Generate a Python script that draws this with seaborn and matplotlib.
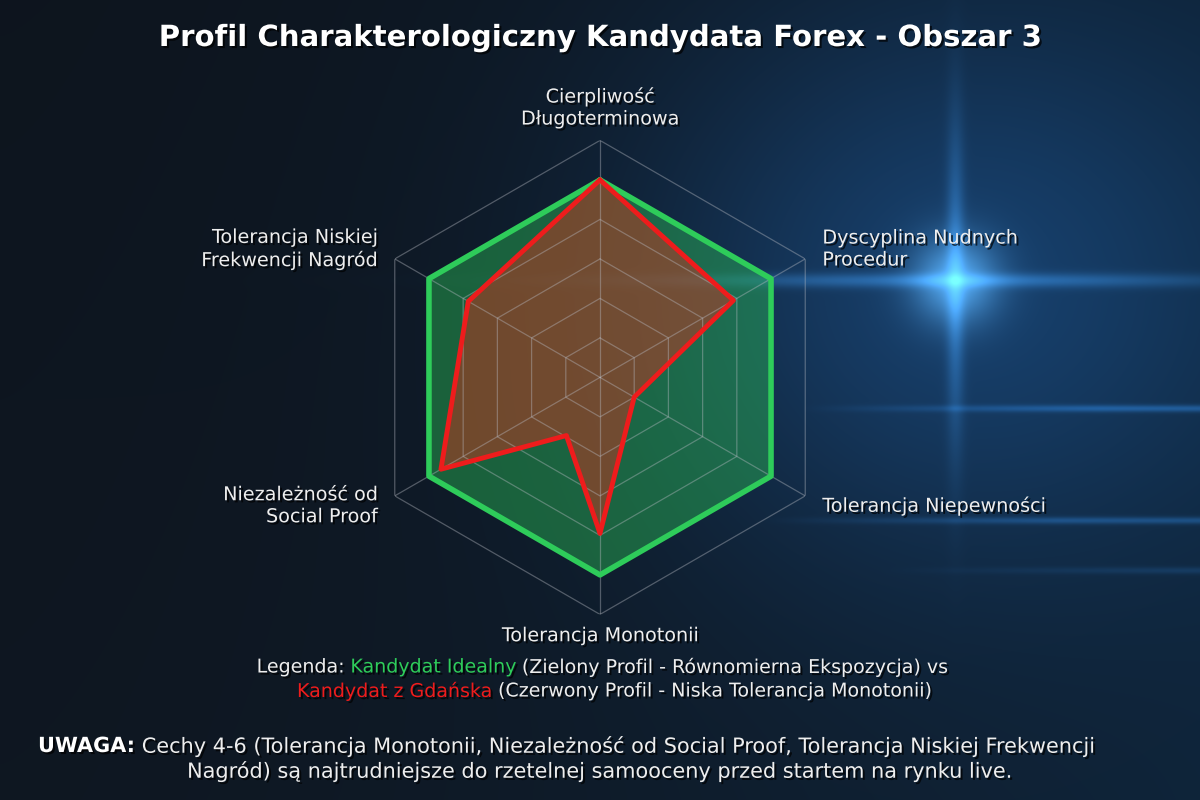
"""
Radar chart: character profile of a Forex candidate (area 3)
"""

import numpy as np
import matplotlib
matplotlib.use('Agg')
import matplotlib.pyplot as plt
import matplotlib.patheffects as pe
import seaborn as sns

sns.set_style('dark')
plt.rcParams['font.family'] = ['DejaVu Sans']

# ---- data -----------------------------------------------------------------
categories = [
    'Cierpliwość\nDługoterminowa',
    'Dyscyplina Nudnych\nProcedur',
    'Tolerancja Niepewności',
    'Tolerancja Monotonii',
    'Niezależność od\nSocial Proof',
    'Tolerancja Niskiej\nFrekwencji Nagród',
]
axis_angles_deg = [0, 60, 120, 180, 240, 300]

ideal_values = [10, 10, 10, 10, 10, 10]

# red profile has one extra vertex between "Monotonii" and "Social Proof"
candidate_angles_deg = [0, 60, 120, 180, 210, 240, 300]
candidate_values = [10, 7.8, 2.0, 7.9, 3.4, 9.3, 7.7]

grid_levels = [2, 4, 6, 8, 10, 12]
r_max = 12

title = 'Profil Charakterologiczny Kandydata Forex - Obszar 3'

GREEN = '#2ecc5a'
RED = '#ee1c1c'
TEXT = '#eeeeee'

shadow = [pe.withSimplePatchShadow(offset=(1.5, -1.5), shadow_rgbFace='black', alpha=0.7)]


def closed(angles_deg, values):
    th = np.deg2rad(list(angles_deg) + [angles_deg[0]])
    return th, list(values) + [values[0]]


def make_background(h=800, w=1200):
    """Dark navy trading-screen style backdrop"""
    yy, xx = np.mgrid[0:h, 0:w]
    fx = xx / w
    fy = yy / h
    base = np.zeros((h, w, 3))
    c_left = np.array([14, 22, 32]) / 255
    c_right = np.array([14, 34, 54]) / 255
    for k in range(3):
        base[..., k] = c_left[k] + (c_right[k] - c_left[k]) * fx ** 1.5
    base *= (0.95 + 0.1 * fy)[..., None]

    def blob(cx, cy, sx, sy, col, amp):
        g = np.exp(-(((xx - cx) / sx) ** 2 + ((yy - cy) / sy) ** 2) / 2)
        return g[..., None] * np.array(col)[None, None, :] / 255 * amp

    # glow on the right
    base += blob(955, 280, 220, 200, (15, 55, 100), 0.6)
    base += blob(955, 280, 30, 30, (110, 190, 240), 0.55)
    base += blob(955, 280, 6, 110, (60, 140, 210), 0.35)
    base += blob(955, 280, 200, 5, (60, 140, 210), 0.35)
    # faint horizontal streaks
    for cy, x0, amp in [(408, 800, 0.35), (520, 760, 0.3), (570, 880, 0.15)]:
        streak = np.exp(-((yy - cy) / 3.5) ** 2) * np.clip((xx - x0) / 300, 0, 1)
        base += streak[..., None] * np.array([40, 120, 200])[None, None, :] / 255 * amp
    return np.clip(base, 0, 1)


fig = plt.figure(figsize=(12, 8), dpi=100)
fig.patch.set_facecolor('#0e1722')

bg = fig.add_axes([0, 0, 1, 1])
bg.imshow(make_background(), aspect='auto', extent=[0, 1, 0, 1], zorder=0)
bg.set_axis_off()

ax = fig.add_axes([0.3025, 0.232, 0.395, 0.5925], projection='polar')
ax.set_facecolor('none')
ax.set_theta_offset(np.pi / 2)
ax.set_theta_direction(-1)
ax.set_ylim(0, r_max)
ax.grid(False)
ax.set_xticks([])
ax.set_yticks([])
ax.spines['polar'].set_visible(False)

# hexagonal grid
for lvl in grid_levels:
    th, rr = closed(axis_angles_deg, [lvl] * len(axis_angles_deg))
    ax.plot(th, rr, color='#b9bcc4', lw=0.9, alpha=0.4, zorder=3)
for a in axis_angles_deg:
    ax.plot([np.deg2rad(a)] * 2, [0, r_max], color='#b9bcc4', lw=0.9, alpha=0.4, zorder=3)

# ideal profile
th, rr = closed(axis_angles_deg, ideal_values)
ax.fill(th, rr, color=GREEN, alpha=0.4, zorder=1)
ax.plot(th, rr, color=GREEN, lw=4, zorder=4)

# candidate profile
th, rr = closed(candidate_angles_deg, candidate_values)
ax.fill(th, rr, color='#ff2214', alpha=0.38, zorder=2)
ax.plot(th, rr, color=RED, lw=3.5, zorder=5)

# axis labels
label_pos = [
    (12.6, 'center', 'bottom'),
    (13.0, 'left', 'center'),
    (13.0, 'left', 'center'),
    (12.6, 'center', 'top'),
    (13.0, 'right', 'center'),
    (13.0, 'right', 'center'),
]
for name, a, (r, ha, va) in zip(categories, axis_angles_deg, label_pos):
    ax.text(np.deg2rad(a), r, name, ha=ha, va=va, multialignment=ha,
            fontsize=13.8, color=TEXT, path_effects=shadow, zorder=6)

fig.text(0.5, 1 - 38 / 800, title, ha='center', va='center', fontsize=21,
         fontweight='bold', color='white', path_effects=shadow)

# multi-coloured text lines
fig.canvas.draw()
renderer = fig.canvas.get_renderer()
W, H = fig.bbox.width, fig.bbox.height


def text_width(s, size, weight='normal'):
    t = fig.text(0, 0, s, fontsize=size, fontweight=weight)
    w = t.get_window_extent(renderer).width
    t.remove()
    return w


def draw_pieces(pieces, y_px, size, x_px=None, center=None):
    space = text_width('a a', size) - text_width('aa', size)
    widths = [text_width(s, size, wt) for s, c, wt in pieces]
    total = sum(widths) + space * (len(pieces) - 1)
    x = center - total / 2 if center is not None else x_px
    for (s, c, wt), w in zip(pieces, widths):
        fig.text(x / W, 1 - y_px / H, s, color=c, fontsize=size, fontweight=wt,
                 ha='left', va='center', path_effects=shadow)
        x += w + space


draw_pieces([('Legenda:', TEXT, 'normal'),
             ('Kandydat Idealny', GREEN, 'normal'),
             ('(Zielony Profil - Równomierna Ekspozycja) vs', TEXT, 'normal')],
            667, 13.7, center=602)
draw_pieces([('Kandydat z Gdańska', RED, 'normal'),
             ('(Czerwony Profil - Niska Tolerancja Monotonii)', TEXT, 'normal')],
            691, 13.7, x_px=297)

draw_pieces([('UWAGA:', 'white', 'bold'),
             ('Cechy 4-6 (Tolerancja Monotonii, Niezależność od Social Proof, '
              'Tolerancja Niskiej Frekwencji', TEXT, 'normal')],
            746, 15, x_px=38)
draw_pieces([('Nagród) są najtrudniejsze do rzetelnej samooceny przed startem na rynku live.',
              TEXT, 'normal')],
            771, 15, center=600)

plt.savefig('out.png', dpi=100, facecolor=fig.get_facecolor())
